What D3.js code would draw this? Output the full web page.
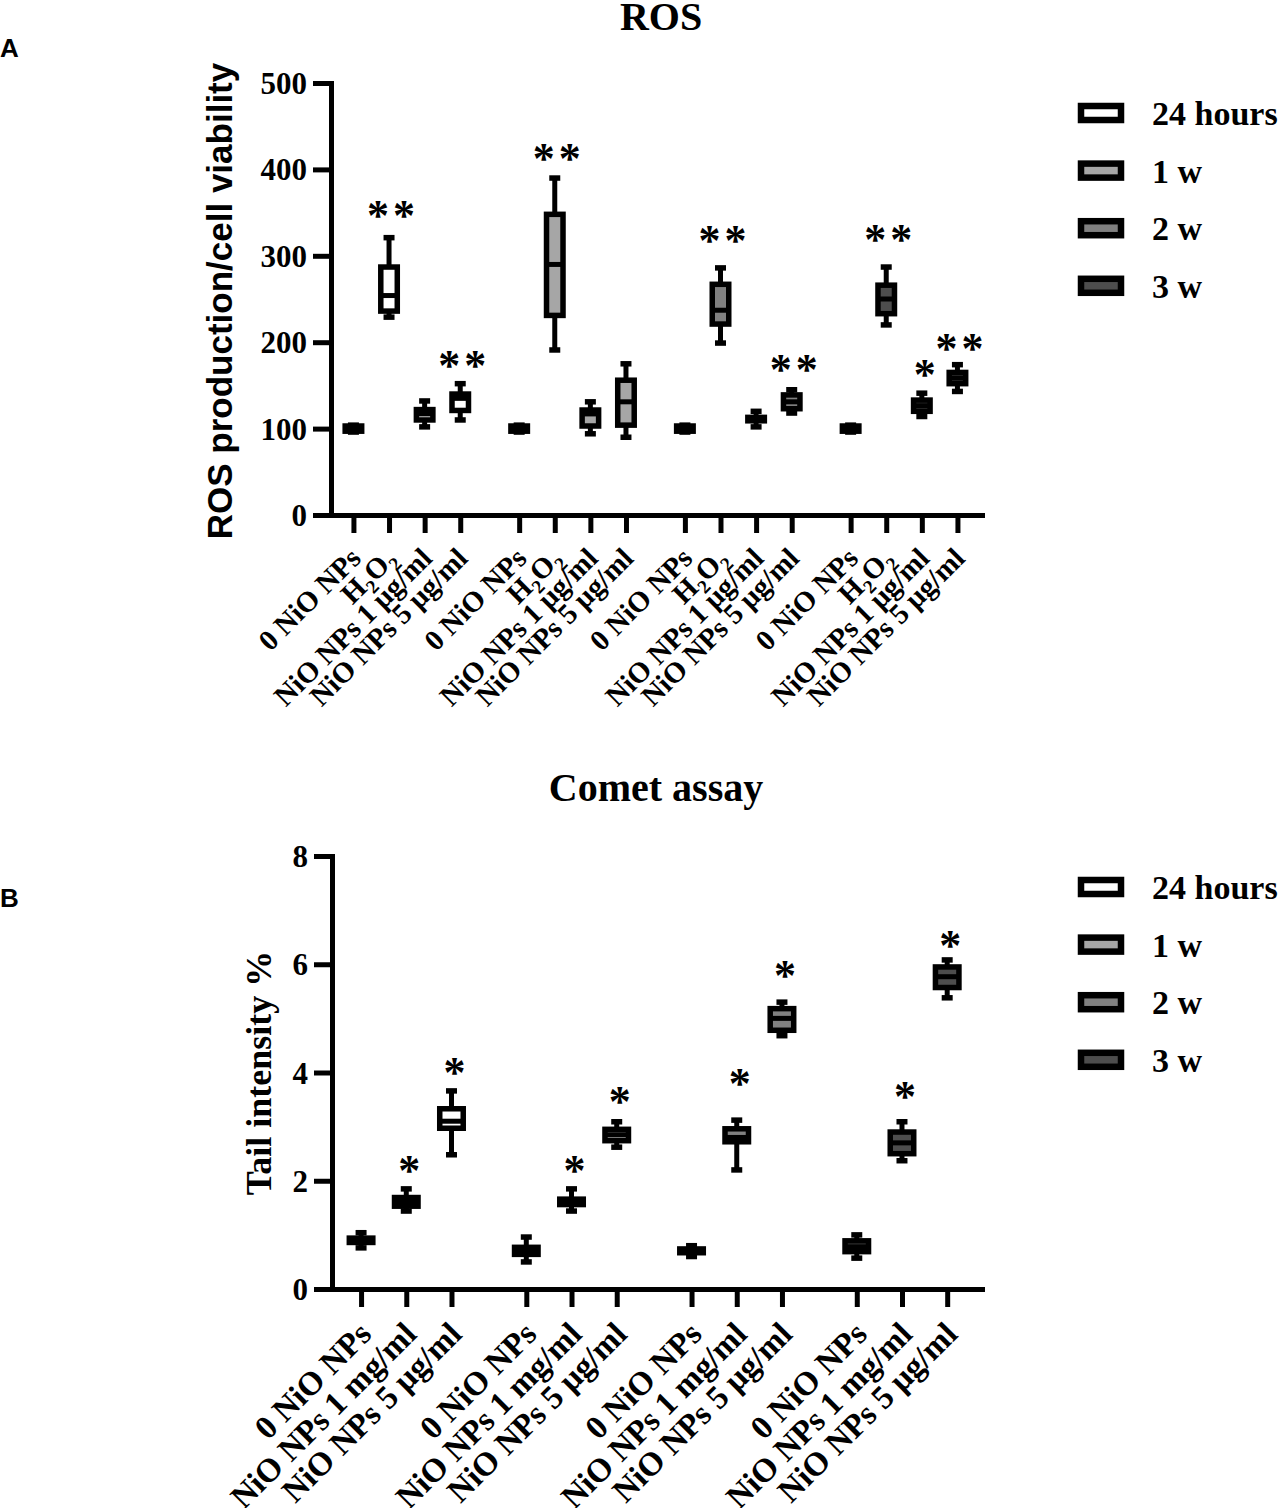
<!DOCTYPE html>
<html>
<head>
	<meta charset="utf-8">
	<script src="https://d3js.org/d3.v7.min.js"></script>
	<style>
		body { margin: 0; background: #fff; }
		.serif { font-family: "Liberation Serif", "Times New Roman", serif; font-weight: bold; }
		.sans { font-family: "Liberation Sans", Arial, sans-serif; font-weight: bold; }
	</style>
</head>
<body>
<div id="chart"></div>
<script type="text/javascript">

// series (time points) and their fills
var series = ["24 hours", "1 w", "2 w", "3 w"];
var seriesFill = ["#ffffff", "#a6a6a6", "#808080", "#4d4d4d"];

// ROS: boxes as [min, q1, median, q3, max]
var rosLabels = ["0 NiO NPs", "H2O2", "NiO NPs 1 μg/ml", "NiO NPs 5 μg/ml"];
var ros24h = [[96, 97, 100, 103, 104], [229, 236, 254, 287, 321], [102, 110, 117, 122, 132], [110, 121, 135, 140, 152]];
var ros1w  = [[96, 97, 100, 103, 104], [191, 231, 290, 348, 390], [94, 103, 117, 121.5, 131], [90, 104, 131, 156, 175]];
var ros2w  = [[96, 97, 100, 103, 104], [199, 221, 237, 267, 286], [102, 109, 111, 113, 120], [118, 123, 131, 139, 145]];
var ros3w  = [[96, 97, 100, 103, 104], [220, 233, 250, 266, 287], [114, 120, 126.5, 133, 141], [143, 152, 158.5, 165, 174]];
var rosTicks = [0, 100, 200, 300, 400, 500];
// significance marks: [series, box, value, text]
var rosStars = [[0, 1, 355, "**"], [0, 3, 181, "**"], [1, 1, 420.5, "**"], [2, 1, 326, "**"], [2, 3, 177, "**"],
                [3, 1, 327, "**"], [3, 2, 171, "*"], [3, 3, 200.5, "**"]];

// Comet assay
var cometLabels = ["0 NiO NPs", "NiO NPs 1 mg/ml", "NiO NPs 5 μg/ml"];
var comet24h = [[0.76, 0.86, 0.9, 0.94, 1.04], [1.44, 1.53, 1.61, 1.69, 1.85], [2.48, 2.97, 3.1, 3.33, 3.66]];
var comet1w  = [[0.5, 0.64, 0.71, 0.77, 0.96], [1.44, 1.56, 1.61, 1.66, 1.85], [2.62, 2.74, 2.85, 2.95, 3.09]];
var comet2w  = [[0.6, 0.67, 0.7, 0.74, 0.8], [2.2, 2.72, 2.8, 2.96, 3.12], [4.68, 4.78, 5.0, 5.18, 5.3]];
var comet3w  = [[0.57, 0.69, 0.78, 0.89, 1.0], [2.37, 2.5, 2.7, 2.9, 3.09], [5.38, 5.57, 5.77, 5.95, 6.08]];
var cometTicks = [0, 2, 4, 6, 8];
var cometStars = [[0, 1, 2.32, "*"], [0, 2, 4.13, "*"], [1, 1, 2.32, "*"], [1, 2, 3.59, "*"],
                  [2, 1, 3.92, "*"], [2, 2, 5.93, "*"], [3, 1, 3.68, "*"], [3, 2, 6.47, "*"]];

var svgwidth = 1287;
var svgheight = 1508;

var svg = d3.select("#chart").append("svg")
	.attr("width", svgwidth)
	.attr("height", svgheight);

var GAP = 0.655; // extra slots between groups

function drawPanel(p) {
	var n = p.labels.length;
	var slot = function(g, i) { return g * (n + GAP) + i; };
	var lastSlot = slot(series.length - 1, n - 1);

	var xScale = d3.scaleLinear()
		.domain([p.xPadLeft, lastSlot + p.xPadRight])
		.range([p.left, p.right]);
	var yScale = d3.scaleLinear()
		.domain([0, p.ticks[p.ticks.length - 1]])
		.range([p.bottom, p.top]);

	var root = svg.append("g");

	// boxes
	var boxes = [];
	p.data.forEach(function(ser, g) {
		ser.forEach(function(d, i) {
			boxes.push({g: g, i: i, v: d});
		});
	});

	var bw = p.boxWidth, cw = 11;
	var box = root.selectAll(".box").data(boxes).enter().append("g").attr("class", "box");
	box.append("line")
		.attr("x1", function(d) { return xScale(slot(d.g, d.i)); })
		.attr("x2", function(d) { return xScale(slot(d.g, d.i)); })
		.attr("y1", function(d) { return yScale(d.v[0]); })
		.attr("y2", function(d) { return yScale(d.v[4]); })
		.attr("stroke", "#000").attr("stroke-width", 5);
	[0, 4].forEach(function(k) {
		box.append("line")
			.attr("x1", function(d) { return xScale(slot(d.g, d.i)) - cw / 2; })
			.attr("x2", function(d) { return xScale(slot(d.g, d.i)) + cw / 2; })
			.attr("y1", function(d) { return yScale(d.v[k]); })
			.attr("y2", function(d) { return yScale(d.v[k]); })
			.attr("stroke", "#000").attr("stroke-width", 5.5);
	});
	box.append("rect")
		.attr("x", function(d) { return xScale(slot(d.g, d.i)) - bw / 2; })
		.attr("y", function(d) { return yScale(d.v[3]); })
		.attr("width", bw)
		.attr("height", function(d) { return yScale(d.v[1]) - yScale(d.v[3]); })
		.attr("fill", function(d) { return seriesFill[d.g]; })
		.attr("stroke", "#000").attr("stroke-width", 5.5);
	box.append("line")
		.attr("x1", function(d) { return xScale(slot(d.g, d.i)) - bw / 2; })
		.attr("x2", function(d) { return xScale(slot(d.g, d.i)) + bw / 2; })
		.attr("y1", function(d) { return yScale(d.v[2]); })
		.attr("y2", function(d) { return yScale(d.v[2]); })
		.attr("stroke", "#000").attr("stroke-width", 5);

	// stars
	root.selectAll(".star").data(p.stars).enter().append("text")
		.attr("class", "star serif")
		.attr("x", function(d) { return xScale(slot(d[0], d[1])) + (d[3].length > 1 ? 4 : 3); })
		.attr("y", function(d) { return yScale(d[2]) + 0.49 * 44; })
		.attr("text-anchor", "middle")
		.attr("letter-spacing", function(d) { return d[3].length > 1 ? 4 : 0; })
		.style("font-size", "44px")
		.text(function(d) { return d[3]; });

	// y axis
	var yAxis = root.append("g")
		.attr("transform", "translate(" + p.left + ",0)")
		.call(d3.axisLeft(yScale).tickValues(p.ticks).tickSize(18).tickSizeOuter(0).tickPadding(6));
	// x axis
	var slots = [];
	series.forEach(function(s, g) { p.labels.forEach(function(l, i) { slots.push({g: g, i: i, label: l}); }); });
	var xAxis = root.append("g")
		.attr("transform", "translate(0," + p.bottom + ")")
		.call(d3.axisBottom(xScale).tickValues(slots.map(function(d) { return slot(d.g, d.i); }))
			.tickSize(18).tickSizeOuter(0).tickFormat(""));

	[yAxis, xAxis].forEach(function(ax) {
		ax.select(".domain").attr("stroke-width", 5).attr("stroke-linecap", "square");
		ax.selectAll(".tick line").attr("stroke-width", 5);
	});
	yAxis.selectAll(".tick text")
		.attr("class", "serif")
		.style("font-size", "31px")
		.attr("dy", "0.34em")
		.attr("fill", "#000");
	yAxis.attr("font-family", null).attr("font-size", null);
	xAxis.attr("font-family", null).attr("font-size", null);

	// rotated category labels
	var lab = root.selectAll(".xlab").data(slots).enter().append("text")
		.attr("class", "xlab serif")
		.attr("text-anchor", "end")
		.style("font-size", p.labelSize + "px")
		.attr("transform", function(d) {
			return "translate(" + (xScale(slot(d.g, d.i)) + p.labelDx) + "," + (p.bottom + p.labelDy) + ") rotate(-45)";
		});
	lab.each(function(d) {
		var t = d3.select(this);
		if (d.label === "H2O2") {
			t.append("tspan").text("H");
			t.append("tspan").attr("dy", 7).style("font-size", "0.66em").text("2");
			t.append("tspan").attr("dy", -7).text("O");
			t.append("tspan").attr("dy", 7).style("font-size", "0.66em").text("2");
		} else {
			t.text(d.label);
		}
	});

	// title
	root.append("text").attr("class", "serif")
		.attr("x", p.titleX).attr("y", p.titleY)
		.attr("text-anchor", "middle")
		.style("font-size", "40px")
		.text(p.title);

	// y axis title
	root.append("text").attr("class", p.yTitleClass)
		.attr("transform", "translate(" + p.yTitleX + "," + p.yTitleY + ") rotate(-90)")
		.attr("text-anchor", "middle")
		.style("font-size", p.yTitleSize + "px")
		.text(p.yTitle);

	// panel letter
	root.append("text").attr("class", "sans")
		.attr("x", 0).attr("y", p.letterY)
		.style("font-size", "26px")
		.text(p.letter);

	// legend
	var leg = root.selectAll(".leg").data(series).enter().append("g")
		.attr("class", "leg")
		.attr("transform", function(d, i) { return "translate(1081," + (p.legendTop + i * 57.6) + ")"; });
	leg.append("rect")
		.attr("x", 0).attr("y", -7)
		.attr("width", 40).attr("height", 14)
		.attr("fill", function(d, i) { return seriesFill[i]; })
		.attr("stroke", "#000").attr("stroke-width", 6.5);
	leg.append("text").attr("class", "serif")
		.attr("x", 71).attr("y", 12)
		.style("font-size", "34px")
		.text(function(d) { return d; });
}

drawPanel({
	data: [ros24h, ros1w, ros2w, ros3w],
	labels: rosLabels, ticks: rosTicks, stars: rosStars,
	left: 331, right: 982, top: 83, bottom: 515,
	xPadLeft: -0.63, xPadRight: 0.69,
	boxWidth: 16.5,
	labelSize: 29, labelDx: 9, labelDy: 45,
	title: "ROS", titleX: 661, titleY: 30,
	yTitle: "ROS production/cell viability", yTitleClass: "sans", yTitleSize: 35, yTitleX: 232, yTitleY: 301,
	letter: "A", letterY: 57,
	legendTop: 113
});

drawPanel({
	data: [comet24h, comet1w, comet2w, comet3w],
	labels: cometLabels, ticks: cometTicks, stars: cometStars,
	left: 332, right: 982, top: 856, bottom: 1289,
	xPadLeft: -0.643, xPadRight: 0.77,
	boxWidth: 23.5,
	labelSize: 33, labelDx: 12, labelDy: 47,
	title: "Comet assay", titleX: 656, titleY: 801,
	yTitle: "Tail intensity %", yTitleClass: "serif", yTitleSize: 36, yTitleX: 271, yTitleY: 1073,
	letter: "B", letterY: 907,
	legendTop: 887
});

</script>
</body>
</html>
